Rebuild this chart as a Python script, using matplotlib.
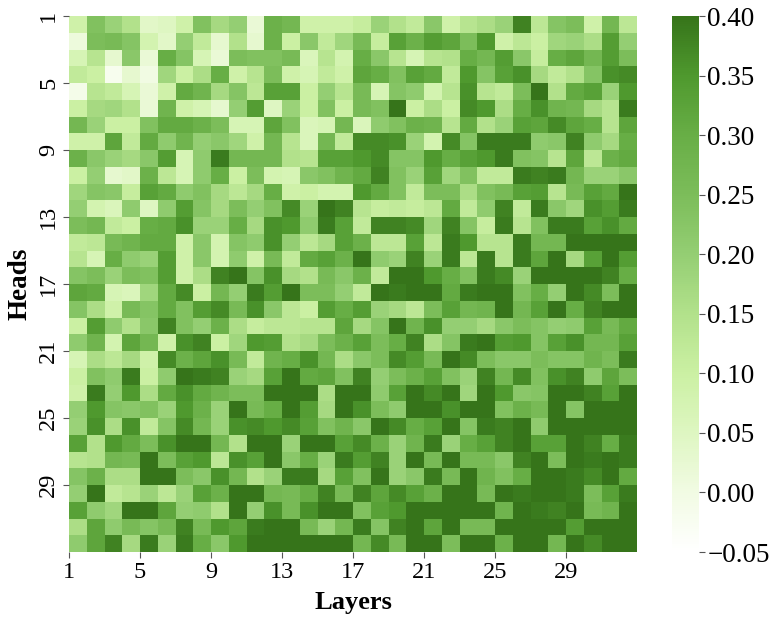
"""Heads vs layers heatmap"""
import numpy as np
import matplotlib
matplotlib.use('Agg')
import matplotlib.pyplot as plt
from matplotlib.colors import LinearSegmentedColormap

plt.rcParams['font.family'] = ['Liberation Serif', 'DejaVu Serif']

# values per head (row), one per layer (column), left half then right half
left_half = [
    [.09,.24,.19,.15,.04,.05,.09,.24,.17,.20,.02,.29,.27,.09,.09,.09],
    [.01,.25,.26,.23,.08,.04,.20,.12,.03,.15,.03,.29,.10,.22,.12,.18],
    [.07,.14,.03,.22,.02,.30,.23,.07,.02,.25,.24,.24,.26,.06,.14,.08],
    [.12,.10,-.02,.03,.00,.18,.10,.16,.30,.09,.14,.25,.09,.07,.12,.09],
    [-.01,.14,.12,.07,.02,.09,.31,.28,.17,.23,.13,.33,.33,.10,.20,.14],
    [.10,.17,.18,.15,.02,.28,.09,.07,.03,.20,.34,.05,.19,.10,.24,.10],
    [.27,.19,.10,.10,.24,.31,.31,.29,.25,.07,.07,.32,.24,.06,.07,.27],
    [.09,.09,.32,.12,.31,.21,.28,.20,.22,.18,.09,.27,.14,.06,.27,.12],
    [.29,.22,.19,.17,.22,.34,.07,.21,.39,.27,.27,.27,.15,.14,.33,.33],
    [.10,.20,.03,.04,.29,.13,.07,.21,.30,.10,.25,.08,.07,.22,.24,.28],
    [.18,.23,.22,.11,.33,.31,.21,.24,.17,.13,.17,.30,.09,.10,.08,.08],
    [.20,.08,.06,.21,.05,.21,.34,.23,.17,.25,.20,.24,.37,.19,.40,.38],
    [.25,.27,.12,.10,.30,.31,.36,.19,.19,.30,.17,.36,.35,.21,.39,.33],
    [.12,.13,.26,.28,.31,.31,.09,.22,.08,.23,.21,.36,.20,.13,.17,.33],
    [.14,.07,.30,.21,.19,.34,.09,.22,.08,.21,.09,.26,.12,.31,.33,.29],
    [.23,.25,.19,.25,.24,.34,.09,.16,.38,.40,.23,.36,.17,.15,.26,.22],
    [.32,.31,.07,.06,.18,.31,.37,.10,.27,.20,.39,.34,.40,.25,.25,.20],
    [.23,.16,.09,.26,.23,.31,.24,.34,.37,.26,.36,.22,.13,.10,.34,.30],
    [.10,.34,.21,.15,.22,.38,.24,.20,.29,.16,.11,.13,.13,.14,.14,.32],
    [.21,.28,.08,.32,.27,.09,.36,.38,.10,.18,.35,.34,.15,.17,.25,.29],
    [.07,.16,.13,.17,.09,.37,.29,.32,.36,.26,.12,.28,.30,.36,.27,.16],
    [.10,.24,.21,.39,.10,.21,.40,.39,.38,.19,.17,.33,.40,.31,.32,.24],
    [.09,.39,.20,.35,.16,.31,.36,.31,.28,.25,.25,.40,.40,.40,.16,.40],
    [.20,.35,.23,.22,.24,.19,.35,.29,.19,.40,.26,.30,.40,.34,.17,.40],
    [.19,.36,.16,.36,.12,.23,.37,.27,.19,.36,.37,.35,.37,.33,.24,.28],
    [.33,.15,.35,.31,.25,.36,.40,.40,.27,.15,.40,.40,.19,.40,.40,.33],
    [.14,.15,.27,.26,.40,.25,.33,.35,.13,.36,.33,.40,.22,.30,.19,.39],
    [.23,.29,.16,.16,.40,.40,.25,.22,.36,.27,.15,.19,.39,.39,.17,.33],
    [.20,.40,.12,.14,.19,.13,.19,.33,.29,.40,.40,.27,.26,.30,.38,.26],
    [.33,.21,.18,.40,.40,.32,.20,.21,.15,.40,.20,.36,.26,.36,.40,.40],
    [.16,.32,.21,.26,.23,.26,.38,.26,.35,.32,.39,.40,.40,.26,.19,.27],
    [.21,.32,.38,.17,.39,.19,.39,.30,.22,.35,.40,.40,.40,.40,.40,.40],
]
right_half = [
    [.11,.19,.15,.12,.22,.09,.14,.16,.19,.38,.13,.23,.25,.09,.27,.13],
    [.26,.11,.33,.29,.34,.32,.25,.35,.09,.13,.10,.18,.19,.16,.34,.20],
    [.30,.22,.14,.07,.14,.15,.30,.27,.34,.22,.11,.30,.32,.27,.34,.25],
    [.32,.30,.24,.33,.31,.12,.35,.23,.33,.36,.17,.12,.15,.23,.36,.37],
    [.26,.07,.23,.21,.08,.14,.36,.14,.12,.25,.40,.15,.31,.33,.19,.35],
    [.26,.24,.40,.10,.16,.10,.37,.35,.16,.30,.36,.28,.27,.17,.14,.39],
    [.06,.21,.24,.29,.28,.14,.31,.15,.19,.33,.32,.37,.32,.30,.14,.32],
    [.37,.37,.36,.19,.08,.37,.23,.39,.39,.39,.21,.22,.38,.21,.17,.30],
    [.35,.37,.23,.23,.35,.30,.33,.35,.39,.24,.23,.14,.32,.13,.29,.31],
    [.31,.38,.24,.19,.33,.18,.24,.12,.12,.39,.38,.39,.27,.19,.19,.22],
    [.35,.31,.24,.12,.25,.25,.16,.24,.26,.33,.34,.14,.26,.33,.31,.40],
    [.14,.11,.12,.11,.13,.31,.12,.21,.38,.12,.39,.22,.18,.36,.34,.39],
    [.12,.38,.38,.37,.18,.38,.23,.11,.39,.14,.24,.39,.39,.33,.36,.31],
    [.29,.13,.13,.33,.13,.39,.35,.14,.14,.39,.27,.27,.40,.40,.40,.40],
    [.40,.21,.19,.38,.19,.39,.13,.39,.14,.39,.32,.40,.17,.33,.40,.34],
    [.29,.12,.40,.40,.35,.30,.24,.39,.37,.19,.40,.40,.40,.40,.38,.30],
    [.12,.40,.39,.40,.40,.31,.39,.40,.40,.24,.30,.20,.40,.37,.25,.40],
    [.34,.19,.17,.13,.25,.33,.27,.28,.40,.27,.33,.40,.30,.38,.40,.40],
    [.17,.23,.40,.28,.36,.20,.20,.17,.22,.25,.23,.20,.21,.33,.26,.31],
    [.33,.25,.30,.38,.16,.23,.39,.40,.34,.35,.23,.33,.36,.27,.27,.33],
    [.22,.25,.37,.34,.26,.40,.37,.25,.22,.22,.25,.23,.23,.28,.25,.39],
    [.38,.20,.25,.29,.33,.24,.19,.38,.27,.37,.24,.36,.38,.21,.32,.25],
    [.40,.21,.33,.40,.37,.40,.18,.40,.35,.22,.23,.40,.40,.38,.33,.40],
    [.36,.25,.21,.40,.40,.36,.40,.40,.24,.29,.26,.40,.23,.40,.40,.40],
    [.22,.40,.37,.30,.33,.40,.23,.39,.38,.40,.21,.40,.40,.40,.40,.40],
    [.37,.29,.19,.28,.39,.19,.30,.33,.38,.40,.33,.33,.40,.38,.30,.39],
    [.34,.38,.19,.40,.26,.40,.26,.26,.22,.38,.40,.25,.40,.39,.40,.39],
    [.24,.40,.19,.22,.39,.26,.40,.28,.24,.30,.40,.40,.39,.37,.40,.31],
    [.38,.32,.37,.33,.29,.40,.40,.26,.40,.39,.40,.40,.39,.25,.33,.39],
    [.24,.33,.35,.40,.40,.40,.40,.40,.28,.40,.39,.38,.40,.26,.28,.40],
    [.39,.23,.38,.40,.32,.40,.26,.26,.40,.40,.40,.40,.34,.40,.40,.40],
    [.27,.37,.26,.40,.40,.25,.40,.40,.29,.40,.40,.27,.40,.37,.40,.40],
]
tick_labels = ['1', '5', '9', '13', '17', '21', '25', '29']
cbar_ticks = [-0.05, 0.00, 0.05, 0.10, 0.15, 0.20, 0.25, 0.30, 0.35, 0.40]

greens = LinearSegmentedColormap.from_list('greens', [
    '#ffffff', '#f1fbe3', '#def6c1', '#cbf0a3', '#b2e18b',
    '#94ce73', '#7cbd5a', '#68ae46', '#4f992e', '#36741a',
])

values = np.hstack([np.array(left_half), np.array(right_half)])

fig = plt.figure(figsize=(7.78, 6.24), dpi=100)
ax = fig.add_axes([69 / 778, 1 - 552 / 624, 568 / 778, 536 / 624])
mesh = ax.pcolormesh(values, cmap=greens, vmin=-0.05, vmax=0.40)
ax.invert_yaxis()

ticks = np.arange(len(tick_labels)) * 4
ax.set_xticks(ticks)
ax.set_xticklabels(tick_labels, fontsize=17.5)
ax.set_yticks(ticks)
ax.set_yticklabels(tick_labels, fontsize=17.5, rotation=90, va='center')
ax.tick_params(length=4, width=0.8, color='#555555', pad=3)
for spine in ax.spines.values():
    spine.set_visible(False)

ax.set_xlabel('Layers', fontsize=19, fontweight='bold', labelpad=6)
ax.set_ylabel('Heads', fontsize=19.5, fontweight='bold', labelpad=4)

cax = fig.add_axes([672 / 778, 1 - 552 / 624, 27 / 778, 536 / 624])
cbar = fig.colorbar(mesh, cax=cax, ticks=cbar_ticks)
cbar.outline.set_visible(False)
cbar.ax.set_yticklabels(['\u22120.05'] + ['%.2f' % t for t in cbar_ticks[1:]], fontsize=19.5)
cbar.ax.tick_params(length=4, width=0.8, color='#555555', pad=2)

plt.savefig('out.png', dpi=100)
